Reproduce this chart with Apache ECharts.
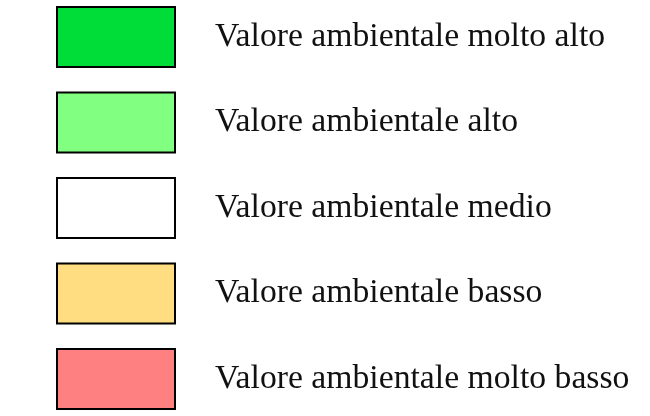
<!DOCTYPE html>
<html><head><meta charset="utf-8">
<script src="https://cdn.jsdelivr.net/npm/echarts@6/dist/echarts.min.js"></script>
<style>html,body{margin:0;padding:0;background:#fff}#c{width:650px;height:416px}</style>
</head><body><div id="c"></div>
<script>
const categories = ["Valore ambientale molto alto","Valore ambientale alto","Valore ambientale medio","Valore ambientale basso","Valore ambientale molto basso"];
const colors = ["#00DD38","#80FF80","#FFFFFF","#FFDD80","#FF8080"];
const chart = echarts.init(document.getElementById('c'), null, {renderer:'canvas'});
chart.setOption({
  animation:false,
  backgroundColor:'#fff',
  grid:{show:false,left:0,top:0,width:1,height:1},
  xAxis:{show:false,type:'category',data:['a']},
  yAxis:{show:false,type:'value'},
  legend:{
    orient:'vertical', left:56, top:6, padding:0, height:416, width:600, icon:'rect',
    itemWidth:118, itemHeight:60, itemGap:23.5, selectedMode:false,
    itemStyle:{borderColor:'#000',borderWidth:2},
    textStyle:{fontFamily:'Liberation Serif',fontSize:33.7,color:'#111',padding:[0,0,0,35]},
    data:categories
  },
  series: categories.map((n,i)=>({name:n,type:'bar',data:[],itemStyle:{color:colors[i]}}))
});
</script></body></html>
